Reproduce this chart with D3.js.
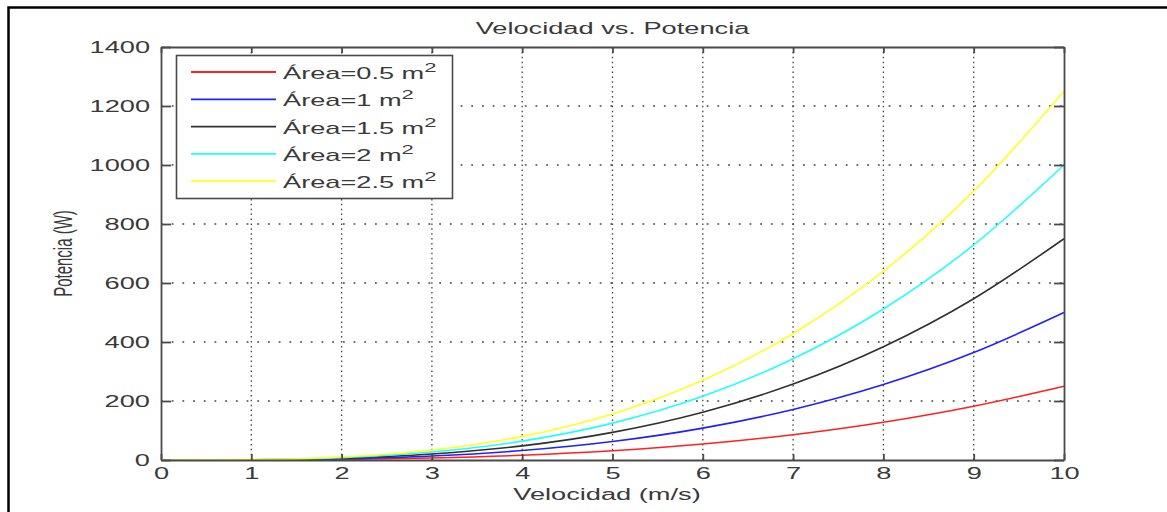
<!DOCTYPE html>
<html>
<head>
<meta charset="utf-8">
<script src="https://cdn.jsdelivr.net/npm/d3@7"></script>
<style>
  body { margin: 0; background: #fff; }
  svg { display: block; }
  text { font-family: "Liberation Sans", Arial, sans-serif; fill: #3a3a3a; }
</style>
</head>
<body>
<svg width="1167" height="512"></svg>
<script>
// data: P (W) at each integer speed (m/s)
const velocidad = [0, 1, 2, 3, 4, 5, 6, 7, 8, 9, 10];
const area05 = [0, 0.25, 2, 6.75, 16, 31.25, 54, 85.75, 128, 182.25, 250];
const area1 = [0, 0.5, 4, 13.5, 32, 62.5, 108, 171.5, 256, 364.5, 500];
const area15 = [0, 0.75, 6, 20.25, 48, 93.75, 162, 257.25, 384, 546.75, 750];
const area2 = [0, 1, 8, 27, 64, 125, 216, 343, 512, 729, 1000];
const area25 = [0, 1.25, 10, 33.75, 80, 156.25, 270, 428.75, 640, 911.25, 1250];
const seriesNames = ["Área=0.5 m", "Área=1 m", "Área=1.5 m", "Área=2 m", "Área=2.5 m"];
const seriesColors = ["#ff2020", "#2020ff", "#303030", "#20ffff", "#ffff20"];
const xTicks = [0, 1, 2, 3, 4, 5, 6, 7, 8, 9, 10];
const yTicks = [0, 200, 400, 600, 800, 1000, 1200, 1400];

const series = [area05, area1, area15, area2, area25].map((vals, i) => ({
  name: seriesNames[i],
  color: seriesColors[i],
  points: vals.map((p, j) => [velocidad[j], p])
}));

const svg = d3.select("svg");
const stretchX = 1.7; // the picture is widened horizontally
const m = { left: 161, right: 1064, top: 47, bottom: 460 };

const x = d3.scaleLinear().domain([0, 10]).range([m.left, m.right]);
const y = d3.scaleLinear().domain([0, 1400]).range([m.bottom, m.top]);

function widen(sel) {
  sel.each(function () {
    const w = this.getComputedTextLength();
    this.setAttribute("textLength", w * stretchX);
    this.setAttribute("lengthAdjust", "spacingAndGlyphs");
  });
}

// outer frame (top and left edges)
svg.append("path")
  .attr("d", "M8.5,512V7.5H1167")
  .attr("fill", "none")
  .attr("stroke", "#000")
  .attr("stroke-width", 2.5);

// grid
const grid = svg.append("g");
grid.selectAll("line.gx")
  .data(xTicks.slice(1, -1))
  .join("line")
  .attr("x1", d => x(d)).attr("x2", d => x(d))
  .attr("y1", m.top).attr("y2", m.bottom)
  .attr("stroke", "#444")
  .attr("stroke-width", 1.3)
  .attr("stroke-dasharray", "1.5,3.4");
grid.selectAll("line.gy")
  .data(yTicks.slice(1, -1))
  .join("line")
  .attr("x1", m.left).attr("x2", m.right)
  .attr("y1", d => y(d)).attr("y2", d => y(d))
  .attr("stroke", "#444")
  .attr("stroke-width", 1.3)
  .attr("stroke-dasharray", "1.8,8.9");

// curves
const line = d3.line()
  .x(d => x(d[0]))
  .y(d => y(d[1]))
  .curve(d3.curveMonotoneX);
svg.append("g")
  .selectAll("path")
  .data(series)
  .join("path")
  .attr("d", d => line(d.points))
  .attr("fill", "none")
  .attr("stroke", d => d.color)
  .attr("stroke-width", 1.6);

// axes (box with inward ticks)
function styleAxis(g) {
  g.select(".domain").attr("stroke", "#4a4a4a").attr("stroke-width", 1.8);
  g.selectAll(".tick line").attr("stroke", "#4a4a4a").attr("stroke-width", 1.8);
  g.selectAll("text")
    .attr("fill", "#3a3a3a")
    .style("font-family", "'Liberation Sans', Arial, sans-serif")
    .style("font-size", "16px");
}

svg.append("g")
  .attr("transform", `translate(0,${m.bottom})`)
  .call(d3.axisBottom(x).tickValues(xTicks).tickFormat(d3.format("d"))
    .tickSizeInner(-6).tickSizeOuter(0).tickPadding(8))
  .call(styleAxis)
  .call(g => g.selectAll("text").call(widen));

svg.append("g")
  .attr("transform", `translate(0,${m.top})`)
  .call(d3.axisTop(x).tickValues(xTicks).tickSizeInner(-6).tickSizeOuter(0).tickFormat(""))
  .call(styleAxis);

svg.append("g")
  .attr("transform", `translate(${m.left},0)`)
  .call(d3.axisLeft(y).tickValues(yTicks).tickFormat(d3.format("d"))
    .tickSizeInner(-10).tickSizeOuter(0).tickPadding(11))
  .call(styleAxis)
  .call(g => g.selectAll("text").call(widen));

svg.append("g")
  .attr("transform", `translate(${m.right},0)`)
  .call(d3.axisRight(y).tickValues(yTicks).tickSizeInner(-10).tickSizeOuter(0).tickFormat(""))
  .call(styleAxis);

// title and axis labels
svg.append("text")
  .attr("x", (m.left + m.right) / 2)
  .attr("y", 34)
  .attr("text-anchor", "middle")
  .style("font-size", "16px")
  .text("Velocidad vs. Potencia")
  .call(widen);

svg.append("text")
  .attr("x", 607)
  .attr("y", 500)
  .attr("text-anchor", "middle")
  .style("font-size", "16px")
  .text("Velocidad (m/s)")
  .call(widen);

svg.append("text")
  .attr("transform", `translate(72,${(m.top + m.bottom) / 2}) rotate(-90) scale(1,${stretchX})`)
  .attr("text-anchor", "middle")
  .style("font-size", "15px")
  .text("Potencia (W)");

// legend
const legend = svg.append("g");
legend.append("rect")
  .attr("x", 176.5).attr("y", 55.5)
  .attr("width", 276).attr("height", 143)
  .attr("fill", "#fff")
  .attr("stroke", "#4a4a4a")
  .attr("stroke-width", 1.6);

const item = legend.selectAll("g.item")
  .data(series)
  .join("g")
  .attr("transform", (d, i) => `translate(0,${72 + i * 27.3})`);

item.append("line")
  .attr("x1", 191).attr("x2", 276)
  .attr("stroke", d => d.color)
  .attr("stroke-width", 1.8);

const label = item.append("text")
  .attr("transform", `translate(283,7) scale(${stretchX},1)`)
  .style("font-size", "16px");
label.append("tspan").text(d => d.name);
label.append("tspan")
  .attr("dy", -7)
  .style("font-size", "13px")
  .text("2");
</script>
</body>
</html>
